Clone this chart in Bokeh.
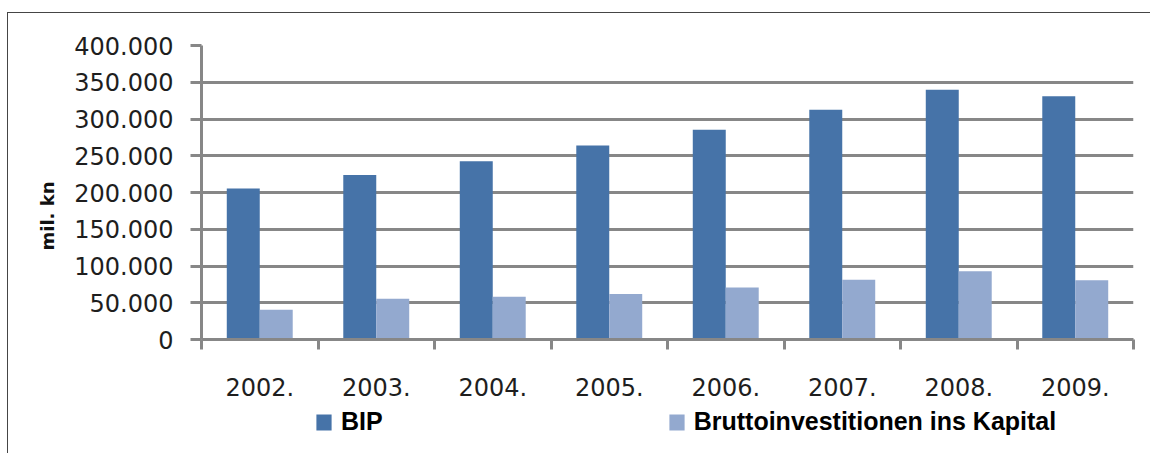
import numpy as np
from bokeh.plotting import figure
from bokeh.layouts import column
from bokeh.models import (ColumnDataSource, Range1d, FixedTicker, Legend, LegendItem, Title)
from bokeh.transform import dodge
from bokeh.embed import file_html
from bokeh.resources import INLINE

# ---- data ----
years = ["2002.", "2003.", "2004.", "2005.", "2006.", "2007.", "2008.", "2009."]
bip = [205400, 223800, 242500, 263900, 285300, 312500, 339700, 331000]
brutto = [40500, 55400, 58200, 61800, 70900, 81200, 92900, 80700]
y_ticks = [0, 50000, 100000, 150000, 200000, 250000, 300000, 350000, 400000]
y_tick_labels = ["0", "50.000", "100.000", "150.000", "200.000", "250.000",
                 "300.000", "350.000", "400.000"]
series_names = ["BIP", "Bruttoinvestitionen ins Kapital"]
y_title = "mil. kn"

# ---- styles ----
C_BIP = "#4673A8"
C_BRU = "#93A9CF"
GRID = "#878787"
TXT = "#1e1e1e"

n = len(years)
centers = [i + 0.5 for i in range(n)]
src = ColumnDataSource(dict(x=centers, bip=bip, brutto=brutto))

p = figure(width=1142, height=393, output_backend="svg", toolbar_location=None,
           x_range=Range1d(0, n), y_range=Range1d(0, 400000),
           min_border_left=193, min_border_right=17, min_border_top=32,
           min_border_bottom=67)
p.outline_line_color = None
p.background_fill_color = "white"
p.border_fill_color = "white"

bw = 0.283
p.vbar(x=dodge("x", -0.1415, range=p.x_range), top="bip", width=bw, source=src,
       fill_color=C_BIP, line_color=None)
p.vbar(x=dodge("x", 0.1415, range=p.x_range), top="brutto", width=bw, source=src,
       fill_color=C_BRU, line_color=None)

# grid
p.xgrid.grid_line_color = None
p.ygrid.ticker = FixedTicker(ticks=y_ticks)
p.ygrid.grid_line_color = GRID
p.ygrid.grid_line_width = 3

# y axis
ya = p.yaxis[0]
ya.ticker = FixedTicker(ticks=y_ticks)
ya.major_label_overrides = {t: l for t, l in zip(y_ticks, y_tick_labels)}
ya.major_label_text_font = "DejaVu Sans"
ya.major_label_text_font_size = "24px"
ya.major_label_text_color = TXT
ya.major_label_standoff = 17
ya.major_tick_out = 11
ya.major_tick_in = 0
ya.major_tick_line_width = 3
ya.major_tick_line_color = GRID
ya.minor_tick_line_color = None
ya.axis_line_width = 3
ya.axis_line_color = GRID

# x axis
xa = p.xaxis[0]
xa.ticker = FixedTicker(ticks=centers, minor_ticks=list(range(n + 1)))
xa.major_label_overrides = {c: y for c, y in zip(centers, years)}
xa.major_label_text_font = "DejaVu Sans"
xa.major_label_text_font_size = "24px"
xa.major_label_text_color = TXT
xa.major_label_standoff = 28
xa.major_tick_line_color = None
xa.minor_tick_out = 10
xa.minor_tick_in = 0
xa.minor_tick_line_width = 3
xa.minor_tick_line_color = GRID
xa.axis_line_width = 3
xa.axis_line_color = GRID

# y title (side title)
p.add_layout(Title(text=y_title, align="left", offset=89, standoff=28,
                   text_font="DejaVu Sans", text_font_style="bold",
                   text_font_size="18px", text_color="#111111"), "left")

# legend strip (frames are aligned with the chart above)
p2 = figure(width=1142, height=47, output_backend="svg", toolbar_location=None,
            x_range=Range1d(0, 1), y_range=Range1d(0, 1),
            x_axis_location=None, y_axis_location=None,
            min_border_left=193, min_border_right=17, min_border_top=0, min_border_bottom=0)
p2.outline_line_color = None
p2.grid.visible = False
l1 = p2.vbar(x="x", top="bip", width=0.1, source=src, fill_color=C_BIP, line_color=None,
             visible=False)
l2 = p2.vbar(x="x", top="brutto", width=0.1, source=src, fill_color=C_BRU, line_color=None,
             visible=False)
legend = Legend(items=[LegendItem(label=series_names[0], renderers=[l1]),
                       LegendItem(label=series_names[1], renderers=[l2])],
                orientation="horizontal", location=(113, 17),
                padding=0, margin=0, spacing=284,
                glyph_width=19, glyph_height=20, label_standoff=8,
                label_text_font="Liberation Sans", label_text_font_style="bold",
                label_text_font_size="25px", label_text_color="#000000",
                inactive_fill_alpha=0,
                border_line_color=None, background_fill_alpha=0)
p2.add_layout(legend)

layout = column(p, p2, spacing=0, margin=(12, 0, 0, 7),
                styles={"border-top": "1px solid #454545",
                        "border-left": "1px solid #454545"})
open("out.html", "w").write(file_html(layout, INLINE))
